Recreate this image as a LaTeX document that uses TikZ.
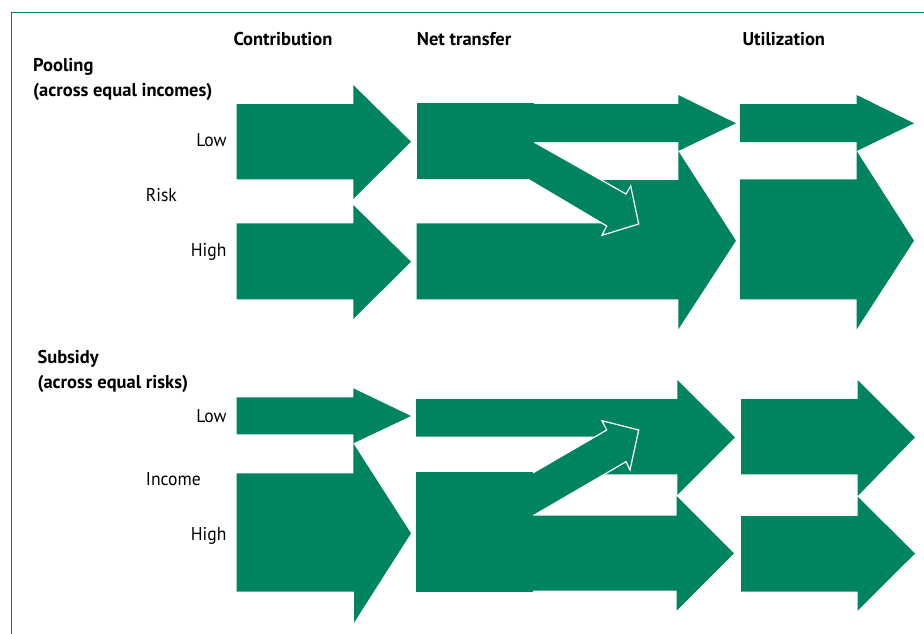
\documentclass[tikz,border=0pt]{standalone}
\usepackage{fontspec}
\setmainfont{PT Sans}
\newfontfamily\regf{PT Sans}[FakeStretch=0.95]
\definecolor{wgreen}{RGB}{0,132,95}
\tikzset{
  blk/.style={fill=wgreen, draw=none},
  outl/.style={fill=wgreen, draw=white, line width=1.2pt, line join=miter},
  hd/.style={font=\bfseries\fontsize{18.5}{20}\selectfont, inner sep=0pt, text=black},
  lbl/.style={font=\regf\fontsize{18.5}{20}\selectfont, inner sep=0pt, text=black},
}
\begin{document}
\begin{tikzpicture}[x=1pt,y=-1pt]
\useasboundingbox (0,0) rectangle (924,634);
\draw[wgreen, line width=0.8pt] (11,634) -- (11,12) -- (924,12);

% ---------- Pooling ----------
% contribution
\fill[blk] (236.7,104) -- (353.3,104) -- (353.3,85) -- (411,141.7) -- (353.3,199) -- (353.3,179.3) -- (236.7,179.3) -- cycle;
\fill[blk] (236.7,223.3) -- (353.3,223.3) -- (353.3,205) -- (411,261.7) -- (353.3,319) -- (353.3,299.3) -- (236.7,299.3) -- cycle;
% net transfer
\fill[blk] (416.7,223.3) -- (601,223.3) -- (601,180) -- (678.3,180) -- (678.3,151) -- (736,240.7) -- (678.3,329.3) -- (678.3,299.3) -- (416.7,299.3) -- cycle;
\filldraw[outl] (500,122.8) -- (626,194) -- (630.7,186) -- (638.7,224) -- (602,235.3) -- (606.7,226) -- (500,162.7) -- cycle;
\fill[blk] (416.7,102.7) rectangle (534,179.3);
\fill[blk] (520,104) -- (678.3,104) -- (678.3,95) -- (736,123.3) -- (678.3,151) -- (678.3,142) -- (520,142) -- cycle;
% utilization
\fill[blk] (740,104) -- (856.7,104) -- (856.7,95) -- (914,123.3) -- (856.7,151) -- (856.7,142) -- (740,142) -- cycle;
\fill[blk] (740,179.3) -- (856.7,179.3) -- (856.7,151) -- (914,240.7) -- (856.7,329.3) -- (856.7,299.3) -- (740,299.3) -- cycle;

% ---------- Subsidy ----------
% contribution
\fill[blk] (236.7,397.3) -- (353.3,397.3) -- (353.3,388.3) -- (411,416) -- (353.3,443.3) -- (353.3,434.3) -- (236.7,434.3) -- cycle;
\fill[blk] (236.7,473.3) -- (353.3,473.3) -- (353.3,443.3) -- (411,533.3) -- (354,622.7) -- (354,591.7) -- (236.7,591.7) -- cycle;
% net transfer
\fill[blk] (416,399) -- (677.3,399) -- (677.3,380) -- (735,437.3) -- (677.3,495) -- (677.3,474.3) -- (600,474.3) -- (600,436.7) -- (416,436.7) -- cycle;
\filldraw[outl] (500,492) -- (606.7,430) -- (602,420.7) -- (638.7,430) -- (630,470) -- (626,461.7) -- (500,535) -- cycle;
\fill[blk] (416,471.7) rectangle (533.3,591.7);
\fill[blk] (520,515.5) -- (676.7,515.5) -- (676.7,496) -- (734,553.3) -- (676.7,610.7) -- (676.7,590.7) -- (520,590.7) -- cycle;
% utilization
\fill[blk] (741,399) -- (857.7,399) -- (857.7,380) -- (915,437.3) -- (857.7,496) -- (857.7,474.3) -- (741,474.3) -- cycle;
\fill[blk] (741,516) -- (857.7,516) -- (857.7,496.7) -- (915,553.5) -- (857.7,610.7) -- (857.7,591.7) -- (741,591.7) -- cycle;

% ---------- Texts ----------
\node[hd, anchor=base west] (hcon) at (233.3,46) {Contribution};
\node[hd, anchor=base west] (hnet) at (416.7,46) {Net transfer};
\node[hd, anchor=base west] (huti) at (742.3,46) {Utilization};
\node[hd, anchor=base west] (pool) at (33,71) {Pooling};
\node[hd, anchor=base west] (pool2) at (33,96.5) {(across equal incomes)};
\node[hd, anchor=base west] (subs) at (37.3,363.3) {Subsidy};
\node[hd, anchor=base west] (subs2) at (37.3,388.5) {(across equal risks)};
\node[lbl, anchor=base east] (plow) at (226.7,146) {Low};
\node[lbl, anchor=base west] (prisk) at (145.7,201.7) {Risk};
\node[lbl, anchor=base east] (phigh) at (226.7,256.7) {High};
\node[lbl, anchor=base east] (slow) at (226.7,422.7) {Low};
\node[lbl, anchor=base west] (sinc) at (145.7,485) {Income};
\node[lbl, anchor=base east] (shigh) at (226.7,540.7) {High};
\end{tikzpicture}
\end{document}
